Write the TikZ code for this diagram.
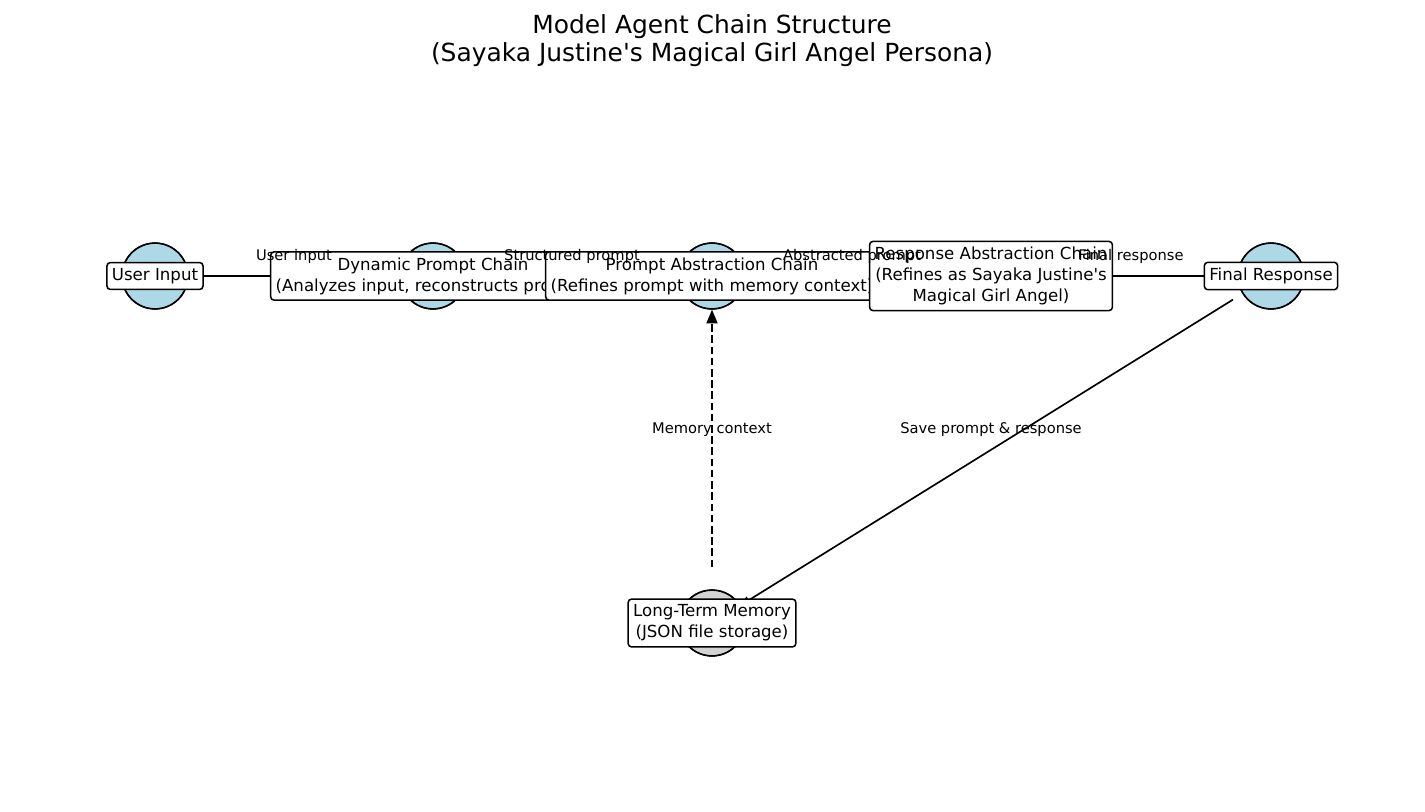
\documentclass[tikz,border=0pt]{standalone}
\usepackage{fontspec}
\setmainfont{DejaVu Sans}
\usetikzlibrary{arrows.meta, positioning, calc}
\definecolor{agentblue}{HTML}{ADD8E6}
\definecolor{memgray}{HTML}{D3D3D3}

\begin{document}
\begin{tikzpicture}[x=0.01in, y=-0.01in,
    agent/.style={circle, draw=black, line width=1.1pt, fill=agentblue, minimum size=47.5pt, inner sep=0pt},
    tag/.style={draw=black, fill=white, line width=1.1pt, rounded corners=2.5pt, inner xsep=3.6pt, inner ysep=4.1pt, align=center, font=\fontsize{12}{15.1}\selectfont},
    flow/.style={line width=1.4pt, -{Triangle[length=7pt,width=6pt]}},
    elabel/.style={inner sep=0pt, font=\fontsize{10.6}{12}\selectfont}]
  \useasboundingbox (0,0) rectangle (1425,811);

  % Title
  \node[align=center, font=\fontsize{18}{20.3}\selectfont] (title) at (712,41)
    {Model Agent Chain Structure\\(Sayaka Justine\textquotesingle s Magical Girl Angel Persona)};

  % Agents
  \node[agent] (uin) at (155,276) {};
  \node[agent] (dpc) at (433,276) {};
  \node[agent] (pac) at (712,276) {};
  \node[agent] (rac) at (991,276) {};
  \node[agent] (fin) at (1271,276) {};
  \node[agent, fill=memgray] (mem) at (712,623) {};

  % Chain flow
  \draw[flow] (uin) -- (dpc);
  \draw[flow] (dpc) -- (pac);
  \draw[flow] (pac) -- (rac);
  \draw[flow] (rac) -- (fin);

  % Memory links
  \draw[flow, line width=1.5pt, dash pattern=on 5.5pt off 2.6pt, -{Triangle[length=10pt,width=8pt]}, shorten <=16pt] (mem) -- (pac);
  \draw[flow, line width=1.2pt, shorten <=8pt] (fin) -- (mem);

  % Agents again, over the lines
  \foreach \a in {uin, dpc, pac, rac, fin} {
    \fill[agentblue] (\a) circle (23.2pt);
    \draw[line width=1.1pt] (\a) circle (23.75pt);
  }
  \fill[memgray] (mem) circle (23.2pt);
  \draw[line width=1.1pt] (mem) circle (23.75pt);

  % Labels
  \node[tag] (uinL) at (uin) {User Input};
  \node[tag] (dpcL) at (dpc) {Dynamic Prompt Chain\\(Analyzes input, reconstructs prompt)};
  \node[tag] (pacL) at (pac) {Prompt Abstraction Chain\\(Refines prompt with memory context)};
  \node[tag] (racL) at (rac) {Response Abstraction Chain\\(Refines as Sayaka Justine\textquotesingle s\\Magical Girl Angel)};
  \node[tag] (finL) at (fin) {Final Response};
  \node[tag] (memL) at (mem) {Long-Term Memory\\(JSON file storage)};

  % Edge labels
  \node[elabel] (l1) at (294,256) {User input};
  \node[elabel] (l2) at (572,256) {Structured prompt};
  \node[elabel] (l3) at (852,256) {Abstracted prompt};
  \node[elabel] (l4) at (1131,256) {Final response};
  \node[elabel] (l5) at (712,430) {Memory context};
  \node[elabel] (l6) at (991,430) {Save prompt \& response};
\end{tikzpicture}
\end{document}
